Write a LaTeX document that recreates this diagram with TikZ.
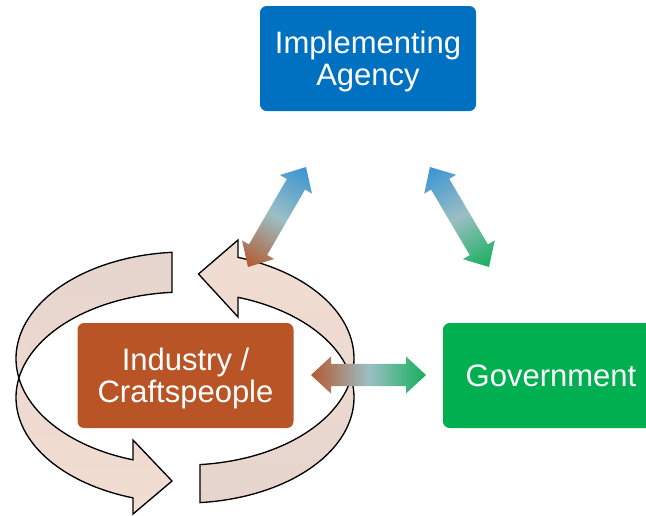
\documentclass[tikz,border=0pt]{standalone}
\usepackage{fontspec}
\newfontfamily\arialfont{Liberation Sans}
\definecolor{agencyblue}{HTML}{0070C0}
\definecolor{industrybrown}{HTML}{B85426}
\definecolor{govgreen}{HTML}{00B050}
\definecolor{bandlight}{HTML}{F2DDD1}
\definecolor{banddark}{HTML}{E6D5CE}
\definecolor{cbrown}{HTML}{B4582F}
\definecolor{cgrey}{HTML}{9BBFC4}
\definecolor{cblue}{HTML}{3994D2}
\definecolor{cgreen}{HTML}{14AF5C}
\pgfdeclarehorizontalshading{sBrownBlue}{100bp}{color(0bp)=(cbrown); color(25bp)=(cbrown); color(50bp)=(cgrey); color(75bp)=(cblue); color(100bp)=(cblue)}
\pgfdeclarehorizontalshading{sBlueGreen}{100bp}{color(0bp)=(cblue); color(25bp)=(cblue); color(50bp)=(cgrey); color(75bp)=(cgreen); color(100bp)=(cgreen)}
\pgfdeclarehorizontalshading{sBrownGreen}{100bp}{color(0bp)=(cbrown); color(25bp)=(cbrown); color(50bp)=(cgrey); color(75bp)=(cgreen); color(100bp)=(cgreen)}
% gradient double arrow: #1 from, #2 to, #3 shading, #4 head length (pt), #5 shaft half width (pt)
\newcommand{\gradarrow}[5]{%
  \pgfpointanchor{#1}{center}\pgfgetlastxy{\gax}{\gay}%
  \pgfpointanchor{#2}{center}\pgfgetlastxy{\gbx}{\gby}%
  \pgfmathsetmacro{\gang}{atan2((\gby)-(\gay),(\gbx)-(\gax))}%
  \pgfmathsetmacro{\glen}{veclen((\gbx)-(\gax),(\gby)-(\gay))}%
  \pgfmathsetmacro{\gneck}{\glen-#4}%
  \begin{scope}[transform canvas={shift={(#1)},rotate=\gang}]
    \shade[shading=#3] (0pt,0pt) -- (#4pt,13.9pt) -- (#4pt,#5pt) -- (\gneck pt,#5pt)
      -- (\gneck pt,13.9pt) -- (\glen pt,0pt) -- (\gneck pt,-13.9pt) -- (\gneck pt,-#5pt)
      -- (#4pt,-#5pt) -- (#4pt,-13.9pt) -- cycle;
  \end{scope}}
\newcommand{\topstrut}{\rule{0pt}{21.5pt}}
\begin{document}
\begin{tikzpicture}[x=0.75pt,y=-0.75pt,
  box/.style={rounded corners=5pt, minimum width=162pt, minimum height=78.75pt,
    inner sep=0pt, text=white, align=center,
    font=\arialfont\fontsize{23.25pt}{24.5pt}\selectfont},
  bandul/.style={draw=black, line width=1pt, top color=banddark, bottom color=bandlight},
  bandlr/.style={draw=black, line width=1pt, top color=bandlight, bottom color=banddark}]
\useasboundingbox (0,0) rectangle (646,515);
\clip (0,0) rectangle (646,515);

% circular arrows around the industry box
\path[bandul]
  plot[domain=94.4:252.1, samples=90] ({185+169*cos(\x)}, {358.5-106.5*sin(\x)})
  -- (133,440) -- (172,481) -- (133,514)
  -- plot[domain=252.1:94.4, samples=90] ({185+169*cos(\x)}, {397.5-105.5*sin(\x)})
  -- cycle;
\path[bandlr]
  plot[domain=-84.9:71.7, samples=90] ({185+169*cos(\x)}, {358.5-106.5*sin(\x)})
  -- (238,240) -- (198.5,274) -- (238,317)
  -- plot[domain=71.7:-84.9, samples=90] ({185+169*cos(\x)}, {397.5-105.5*sin(\x)})
  -- cycle;

% boxes
\node[box, fill=agencyblue] (agency) at (368,58.5) {\topstrut Implementing\\Agency};
\node[box, fill=industrybrown] (industry) at (185.5,375.5) {\topstrut Industry /\\Craftspeople};
\node[box, fill=govgreen] (gov) at (551,375.5) {Government};

% arrow end points
\coordinate (lA) at (248,267);
\coordinate (lB) at (306,167);
\coordinate (rA) at (430,167);
\coordinate (rB) at (489,267);
\coordinate (hA) at (311,375);
\coordinate (hB) at (426,375);

\gradarrow{lA}{lB}{sBrownBlue}{15}{7.9}
\gradarrow{rA}{rB}{sBlueGreen}{15}{7.9}
\gradarrow{hA}{hB}{sBrownGreen}{15}{8.3}
\end{tikzpicture}
\end{document}
